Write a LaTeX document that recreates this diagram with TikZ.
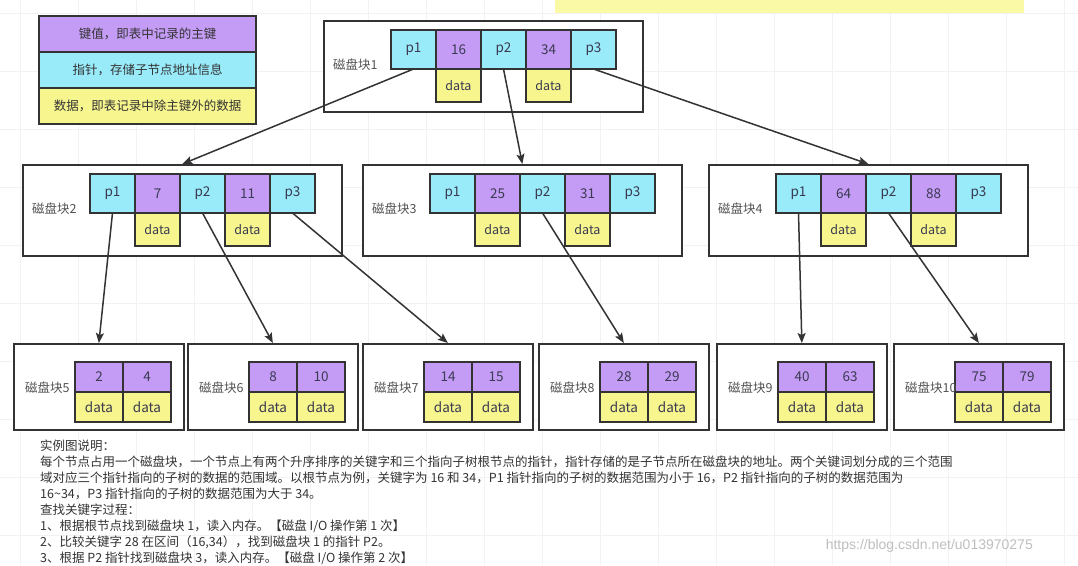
\documentclass[tikz,border=0pt]{standalone}
\usepackage{fontspec}
\setmainfont{Noto Sans CJK SC}
\newfontfamily\wmfont{Liberation Sans}
\usepackage{tikz}
\usetikzlibrary{positioning,arrows.meta}
\usepackage{xcolor}
\definecolor{keyc}{HTML}{C49CF6}
\definecolor{ptrc}{HTML}{99EBFA}
\definecolor{datc}{HTML}{F7F58E}
\definecolor{ink}{HTML}{333333}
\definecolor{celltext}{HTML}{3A3A50}
\definecolor{barc}{HTML}{FAF9A6}
\newcommand{\fs}[1]{\fontsize{#1}{#1}\selectfont}

\tikzset{
  cell/.style={draw=ink, line width=1.4pt, outer sep=0pt, inner sep=0pt, text=celltext},
  ptrcell/.style={cell, fill=ptrc, minimum width=45pt, minimum height=39pt, font=\fs{13.5}},
  keycell/.style={cell, fill=keyc, minimum width=45pt, minimum height=39pt, font=\fs{13.5}},
  datcell/.style={cell, fill=datc, minimum width=45pt, minimum height=33pt, font=\fs{12.5}},
  leafkey/.style={cell, fill=keyc, minimum width=48pt, minimum height=30pt, font=\fs{13.5}},
  leafdat/.style={cell, fill=datc, minimum width=48pt, minimum height=30pt, font=\fs{13.5}},
  diskbox/.style={draw=ink, line width=1.7pt, fill=white, anchor=north west},
  disklabel/.style={font=\fs{12.5}, text=ink!85, inner sep=0pt, anchor=west},
  legendrow/.style={cell, minimum width=217pt, minimum height=36pt, font=\fs{12.5}, text=ink},
  link/.style={-{Stealth[length=10pt,width=8pt,inset=2pt]}, line width=1.5pt, draw=ink},
  gridline/.style={draw=black!5, line width=0.6pt}
}

% inner node: name, x, y, label, key1, key2
\newcommand{\innernode}[6]{%
  \node[diskbox, minimum width=319pt, minimum height=91pt] (#1) at (#2,#3) {};
  \node[ptrcell, below right=10pt and 68pt of #1.north west] (#1p1) {p1};
  \node[keycell, right=0pt of #1p1] (#1k1) {#5};
  \node[ptrcell, right=0pt of #1k1] (#1p2) {p2};
  \node[keycell, right=0pt of #1p2] (#1k2) {#6};
  \node[ptrcell, right=0pt of #1k2] (#1p3) {p3};
  \node[datcell, below=0pt of #1k1] (#1d1) {data};
  \node[datcell, below=0pt of #1k2] (#1d2) {data};
  \node[disklabel] (#1l) at ([xshift=10pt,yshift=4pt]#1.west |- #1p1.south) {#4};
}
% leaf node: name, x, y, label, key1, key2
\newcommand{\leafnode}[6]{%
  \node[diskbox, minimum width=170pt, minimum height=86pt] (#1) at (#2,#3) {};
  \node[leafkey, below right=19pt and 62pt of #1.north west] (#1k1) {#5};
  \node[leafkey, right=0pt of #1k1] (#1k2) {#6};
  \node[leafdat, below=0pt of #1k1] (#1d1) {data};
  \node[leafdat, below=0pt of #1k2] (#1d2) {data};
  \node[disklabel] (#1l) at ([xshift=12pt,yshift=4pt]#1.west |- #1k1.south) {#4};
}

\begin{document}
\begin{tikzpicture}[x=1pt, y=-1pt]
  \useasboundingbox[fill=white] (0,0) rectangle (1078,565);
  % faint canvas grid
  \foreach \gx in {20,78,...,1078} \draw[gridline] (\gx,0) -- (\gx,565);
  \foreach \gy in {13,71,...,565} \draw[gridline] (0,\gy) -- (1078,\gy);
  \fill[barc] (555,0) rectangle (1024,13);

  % legend
  \node[legendrow, fill=keyc, anchor=north west] (lgkey) at (39,16) {键值，即表中记录的主键};
  \node[legendrow, fill=ptrc, below=0pt of lgkey] (lgptr) {指针，存储子节点地址信息};
  \node[legendrow, fill=datc, below=0pt of lgptr] (lgdat) {数据，即表记录中除主键外的数据};

  % tree
  \innernode{b1}{323}{20}{磁盘块1}{16}{34}
  \innernode{b2}{22}{164}{磁盘块2}{7}{11}
  \innernode{b3}{362}{164}{磁盘块3}{25}{31}
  \innernode{b4}{708}{164}{磁盘块4}{64}{88}

  \leafnode{b5}{13}{343}{磁盘块5}{2}{4}
  \leafnode{b6}{187}{343}{磁盘块6}{8}{10}
  \leafnode{b7}{362}{343}{磁盘块7}{14}{15}
  \leafnode{b8}{538}{343}{磁盘块8}{28}{29}
  \leafnode{b9}{716}{343}{磁盘块9}{40}{63}
  \leafnode{b10}{893}{343}{磁盘块10}{75}{79}

  \draw[link] (b1p1.south) -- (b2.north);
  \draw[link] (b1p2.south) -- (b3.north);
  \draw[link] (b1p3.south) -- (b4.north);
  \draw[link] (b2p1.south) -- (b5.north);
  \draw[link] (b2p2.south) -- (b6.north);
  \draw[link] (b2p3.south) -- (b7.north);
  \draw[link] (b3p2.south) -- (b8.north);
  \draw[link] (b4p1.south) -- (b9.north);
  \draw[link] (b4p2.south) -- (b10.north);

  % notes
  \node[anchor=north west, align=left, inner sep=0pt, text=ink, font=\fontsize{12.5}{16}\selectfont] (notes) at (40,440)
    {实例图说明：\\
     每个节点占用一个磁盘块，一个节点上有两个升序排序的关键字和三个指向子树根节点的指针，指针存储的是子节点所在磁盘块的地址。两个关键词划分成的三个范围\\
     域对应三个指针指向的子树的数据的范围域。以根节点为例，关键字为 16 和 34，P1 指针指向的子树的数据范围为小于 16，P2 指针指向的子树的数据范围为\\
     16\textasciitilde 34，P3 指针指向的子树的数据范围为大于 34。\\
     查找关键字过程：\\
     1、根据根节点找到磁盘块 1，读入内存。【磁盘 I/O 操作第 1 次】\\
     2、比较关键字 28 在区间（16,34），找到磁盘块 1 的指针 P2。\\
     3、根据 P2 指针找到磁盘块 3，读入内存。【磁盘 I/O 操作第 2 次】};
  \node[anchor=east, inner sep=0pt, text=black!25, font=\wmfont\fs{14}] (wm) at (1033,546) {https://blog.csdn.net/u013970275};
\end{tikzpicture}
\end{document}
